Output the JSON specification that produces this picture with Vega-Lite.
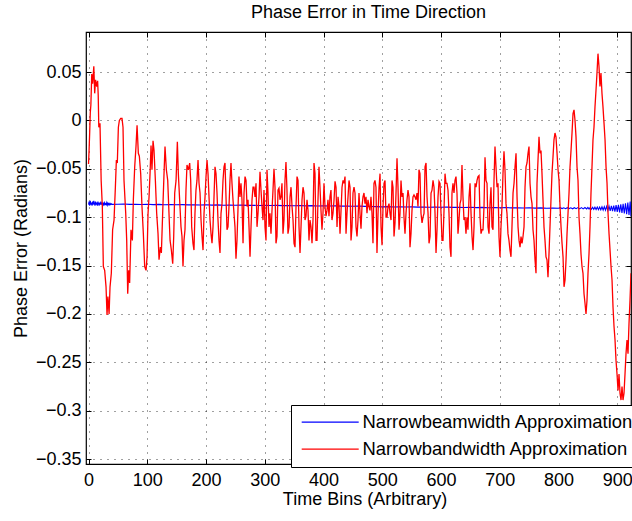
{
"$schema": "https://vega.github.io/schema/vega-lite/v6.json",
"width": 545, "height": 432,
"autosize": {"type": "none"},
"padding": {"left": 86, "top": 32, "right": 1, "bottom": 57},
"background": "white",
"title": {"text": "Phase Error in Time Direction", "font": "Liberation Sans", "fontSize": 18, "fontWeight": "normal", "color": "#000000", "offset": 10, "dx": 10},
"config": {
 "view": {"stroke": "#000000", "strokeWidth": 1.2},
 "font": "Liberation Sans",
 "axis": {"labelFont": "Liberation Sans", "labelFontSize": 18, "labelColor": "#000000", "titleFont": "Liberation Sans", "titleFontSize": 18, "titleFontWeight": "normal", "titleColor": "#000000", "domain": false, "tickColor": "#000000", "tickSize": -5, "tickWidth": 1, "grid": true, "gridColor": "#000000", "gridOpacity": 0.75, "gridDash": [1, 6], "gridWidth": 1}
},
"datasets": {
"blue": [
{"t":0,"v":-0.087},{"t":1,"v":-0.084},{"t":2,"v":-0.088},{"t":3,"v":-0.083},{"t":4,"v":-0.087},{"t":5,"v":-0.085},{"t":6,"v":-0.088},{"t":7,"v":-0.084},{"t":8,"v":-0.087},{"t":9,"v":-0.083},{"t":10,"v":-0.086},{"t":11,"v":-0.088},{"t":12,"v":-0.084},{"t":13,"v":-0.087},{"t":14,"v":-0.085},{"t":15,"v":-0.088},{"t":16,"v":-0.084},{"t":17,"v":-0.086},{"t":18,"v":-0.088},{"t":19,"v":-0.085},{"t":20,"v":-0.087},{"t":21,"v":-0.084},{"t":22,"v":-0.087},{"t":23,"v":-0.085},{"t":24,"v":-0.088},{"t":25,"v":-0.085},{"t":26,"v":-0.087},{"t":27,"v":-0.085},{"t":28,"v":-0.087},{"t":29,"v":-0.086},{"t":30,"v":-0.087},{"t":31,"v":-0.085},{"t":32,"v":-0.0875},{"t":33,"v":-0.0855},{"t":34,"v":-0.087},{"t":35,"v":-0.0858},{"t":36,"v":-0.0872},{"t":37,"v":-0.086},{"t":38,"v":-0.087},{"t":39,"v":-0.0862},{"t":40,"v":-0.0868},
{"t":50,"v":-0.0866},{"t":60,"v":-0.0864},{"t":70,"v":-0.0868},{"t":80,"v":-0.0866},{"t":90,"v":-0.0869},{"t":100,"v":-0.0867},{"t":110,"v":-0.087},{"t":120,"v":-0.0868},{"t":130,"v":-0.0871},{"t":140,"v":-0.0869},{"t":150,"v":-0.0872},{"t":160,"v":-0.087},{"t":170,"v":-0.0873},{"t":180,"v":-0.0871},{"t":190,"v":-0.0874},{"t":200,"v":-0.0872},{"t":210,"v":-0.0875},{"t":220,"v":-0.0873},{"t":230,"v":-0.0876},{"t":240,"v":-0.0874},{"t":250,"v":-0.0877},{"t":260,"v":-0.0875},{"t":270,"v":-0.0878},{"t":280,"v":-0.0876},{"t":290,"v":-0.0879},{"t":300,"v":-0.0877},{"t":310,"v":-0.088},{"t":320,"v":-0.0878},{"t":330,"v":-0.0881},{"t":340,"v":-0.0879},{"t":350,"v":-0.0882},{"t":360,"v":-0.088},{"t":370,"v":-0.0883},{"t":380,"v":-0.0881},{"t":390,"v":-0.0884},{"t":400,"v":-0.0882},{"t":410,"v":-0.0885},{"t":420,"v":-0.0883},{"t":430,"v":-0.0886},{"t":440,"v":-0.0884},{"t":450,"v":-0.0887},{"t":460,"v":-0.0885},{"t":470,"v":-0.0888},{"t":480,"v":-0.089},{"t":490,"v":-0.0891},{"t":500,"v":-0.0893},{"t":510,"v":-0.0891},{"t":520,"v":-0.0894},{"t":530,"v":-0.0892},{"t":540,"v":-0.0895},{"t":550,"v":-0.0893},{"t":560,"v":-0.0896},{"t":570,"v":-0.0894},{"t":580,"v":-0.0897},{"t":590,"v":-0.0895},{"t":600,"v":-0.0898},{"t":610,"v":-0.0896},{"t":620,"v":-0.0899},{"t":630,"v":-0.0897},{"t":640,"v":-0.09},{"t":650,"v":-0.0898},{"t":660,"v":-0.0901},{"t":670,"v":-0.0899},{"t":680,"v":-0.0902},{"t":690,"v":-0.09},{"t":700,"v":-0.0903},{"t":710,"v":-0.0901},{"t":720,"v":-0.0904},{"t":730,"v":-0.0902},{"t":740,"v":-0.0905},{"t":750,"v":-0.0903},{"t":760,"v":-0.0906},{"t":770,"v":-0.0904},{"t":780,"v":-0.0907},{"t":790,"v":-0.0905},{"t":800,"v":-0.0908},
{"t":803,"v":-0.0902},{"t":806,"v":-0.0911},{"t":809,"v":-0.0903},{"t":812,"v":-0.0912},{"t":815,"v":-0.0902},{"t":818,"v":-0.0911},{"t":821,"v":-0.0903},{"t":824,"v":-0.0913},{"t":827,"v":-0.0902},{"t":830,"v":-0.0912},{"t":833,"v":-0.0901},{"t":836,"v":-0.0914},{"t":839,"v":-0.0901},{"t":842,"v":-0.0914},{"t":845,"v":-0.09},{"t":848,"v":-0.0915},{"t":850,"v":-0.09},
{"t":852,"v":-0.0917},{"t":854,"v":-0.0899},{"t":856,"v":-0.0918},{"t":858,"v":-0.0898},{"t":860,"v":-0.0919},{"t":862,"v":-0.0897},{"t":864,"v":-0.092},{"t":866,"v":-0.0896},{"t":868,"v":-0.0922},{"t":870,"v":-0.0895},{"t":872,"v":-0.0923},{"t":874,"v":-0.0893},{"t":876,"v":-0.0926},{"t":878,"v":-0.0891},{"t":880,"v":-0.0928},{"t":882,"v":-0.0889},{"t":884,"v":-0.0931},{"t":886,"v":-0.0886},{"t":888,"v":-0.0934},{"t":890,"v":-0.0883},{"t":892,"v":-0.0938},{"t":894,"v":-0.088},{"t":896,"v":-0.0942},{"t":898,"v":-0.0876},{"t":900,"v":-0.0946},{"t":902,"v":-0.0872},{"t":904,"v":-0.0951},{"t":906,"v":-0.0867},{"t":908,"v":-0.0956},{"t":910,"v":-0.0862},{"t":912,"v":-0.0962},{"t":914,"v":-0.0856},{"t":916,"v":-0.0968},{"t":918,"v":-0.085},{"t":920,"v":-0.0976},{"t":922,"v":-0.0838},{"t":923.4,"v":-0.099}
],
"red": [
{"t":0,"v":-0.045},{"t":1,"v":-0.03},{"t":2,"v":-0.012},{"t":3,"v":0.008},{"t":4,"v":0.016},{"t":5.5,"v":0.048},{"t":7,"v":0.038},{"t":9,"v":0.056},{"t":10.5,"v":0.028},{"t":12,"v":0.042},{"t":14,"v":0.035},{"t":15.5,"v":0.041},{"t":16.5,"v":0.026},{"t":17.5,"v":-0.007},{"t":19.5,"v":-0.003},{"t":21.5,"v":-0.062},{"t":23.5,"v":-0.089},{"t":25.2,"v":-0.151},{"t":27.5,"v":-0.155},{"t":29.8,"v":-0.172},{"t":31.5,"v":-0.201},{"t":33,"v":-0.182},{"t":35,"v":-0.2},{"t":36.6,"v":-0.172},{"t":38.8,"v":-0.158},{"t":41,"v":-0.113},{"t":43.4,"v":-0.103},{"t":45.7,"v":-0.069},{"t":47.4,"v":-0.041},{"t":49,"v":-0.044},{"t":50.8,"v":-0.007},{"t":52.5,"v":0.0},{"t":54.8,"v":0.002},{"t":57,"v":0.002},{"t":58.7,"v":-0.007},{"t":60.4,"v":-0.062},{"t":63.3,"v":-0.096},{"t":65,"v":-0.124},{"t":66.7,"v":-0.179},{"t":68.4,"v":-0.155},{"t":70,"v":-0.168},{"t":72.3,"v":-0.113},{"t":74.6,"v":-0.124},{"t":76.3,"v":-0.082},{"t":78.6,"v":-0.048},{"t":80.8,"v":-0.027},{"t":82.6,"v":-0.005},{"t":84.8,"v":-0.034},{"t":86.5,"v":-0.037},{"t":88.8,"v":-0.055},{"t":91,"v":-0.089},{"t":93.3,"v":-0.117},{"t":95.6,"v":-0.151},{"t":97.9,"v":-0.155},{"t":99.6,"v":-0.141},{"t":101.3,"v":-0.096},{"t":103,"v":-0.079},{"t":104.7,"v":-0.055},{"t":106.4,"v":-0.026},{"t":108,"v":-0.051},{"t":109.8,"v":-0.021},{"t":111.5,"v":-0.031},{"t":113.8,"v":-0.062},{"t":116,"v":-0.096},{"t":118.3,"v":-0.117},{"t":120,"v":-0.144},{"t":122.3,"v":-0.131},{"t":124,"v":-0.137},{"t":126.2,"v":-0.096},{"t":128.5,"v":-0.055},{"t":130.2,"v":-0.027},{"t":132.5,"v":-0.051},{"t":134.8,"v":-0.062},{"t":136.5,"v":-0.089},{"t":138.8,"v":-0.124},{"t":141,"v":-0.134},{"t":143.3,"v":-0.148},{"t":145,"v":-0.12},{"t":146.7,"v":-0.075},{"t":149,"v":-0.062},
{"t":151.2,"v":-0.022},{"t":152.9,"v":-0.055},{"t":155.1,"v":-0.082},{"t":157.4,"v":-0.11},{"t":159.1,"v":-0.12},{"t":160.8,"v":-0.151},{"t":162.5,"v":-0.124},{"t":164.2,"v":-0.113},{"t":165.9,"v":-0.072},{"t":167.6,"v":-0.046},{"t":169.9,"v":-0.051},{"t":172.2,"v":-0.044},{"t":173.9,"v":-0.062},{"t":175.6,"v":-0.11},{"t":177.8,"v":-0.127},{"t":179.5,"v":-0.134},{"t":181.2,"v":-0.096},{"t":182.9,"v":-0.072},{"t":184.6,"v":-0.062},{"t":186.4,"v":-0.041},{"t":188.1,"v":-0.065},{"t":189.8,"v":-0.075},{"t":191.5,"v":-0.103},{"t":193.2,"v":-0.12},{"t":194.9,"v":-0.134},{"t":196.6,"v":-0.096},{"t":198.3,"v":-0.079},{"t":200,"v":-0.058},{"t":201.7,"v":-0.041},{"t":203.4,"v":-0.055},{"t":205.1,"v":-0.079},{"t":206.8,"v":-0.103},{"t":208.5,"v":-0.117},{"t":210.2,"v":-0.127},{"t":211.9,"v":-0.11},{"t":213.6,"v":-0.079},{"t":215.3,"v":-0.048},{"t":217,"v":-0.055},{"t":218.7,"v":-0.075},{"t":220.4,"v":-0.103},{"t":222.1,"v":-0.124},{"t":223.8,"v":-0.137},{"t":225.5,"v":-0.096},{"t":227.2,"v":-0.086},{"t":228.9,"v":-0.062},{"t":230.6,"v":-0.048},{"t":232.3,"v":-0.044},{"t":234,"v":-0.079},{"t":235.7,"v":-0.113},{"t":237.4,"v":-0.11},{"t":239.1,"v":-0.089},{"t":240.8,"v":-0.062},{"t":242.5,"v":-0.044},{"t":244.2,"v":-0.065},{"t":245.9,"v":-0.082},{"t":247.6,"v":-0.096},{"t":249.3,"v":-0.11},{"t":251,"v":-0.143},{"t":252.7,"v":-0.124},{"t":254.4,"v":-0.092},{"t":256.1,"v":-0.058},{"t":257.8,"v":-0.079},{"t":259.5,"v":-0.065},{"t":261.2,"v":-0.082},{"t":263,"v":-0.127},{"t":264.7,"v":-0.075},{"t":266.4,"v":-0.058},{"t":268.1,"v":-0.062},{"t":269.8,"v":-0.089},{"t":271.5,"v":-0.082},{"t":273.2,"v":-0.11},{"t":274.9,"v":-0.141},{"t":276.6,"v":-0.11},{"t":278.3,"v":-0.082},{"t":280,"v":-0.069},{"t":281.7,"v":-0.069},{"t":283.4,"v":-0.079},{"t":285.1,"v":-0.065},{"t":286.8,"v":-0.11},{"t":288.5,"v":-0.096},{"t":290.2,"v":-0.079},{"t":291.9,"v":-0.053},{"t":293.6,"v":-0.072},{"t":295.3,"v":-0.089},{"t":297,"v":-0.103},{"t":298.7,"v":-0.072},{"t":300.4,"v":-0.11},{"t":302.1,"v":-0.124},
{"t":303.8,"v":-0.051},{"t":305.5,"v":-0.075},{"t":307.2,"v":-0.11},{"t":308.9,"v":-0.096},{"t":310.6,"v":-0.117},{"t":312.3,"v":-0.093},{"t":314,"v":-0.072},{"t":315.7,"v":-0.05},{"t":317.4,"v":-0.069},{"t":319.1,"v":-0.127},{"t":320.8,"v":-0.12},{"t":322.5,"v":-0.072},{"t":324.2,"v":-0.07},{"t":325.9,"v":-0.082},{"t":327.6,"v":-0.079},{"t":329.3,"v":-0.065},{"t":331,"v":-0.117},{"t":332.7,"v":-0.103},{"t":334.4,"v":-0.062},{"t":336.1,"v":-0.043},{"t":337.8,"v":-0.072},{"t":339.5,"v":-0.117},{"t":341.3,"v":-0.11},{"t":343,"v":-0.079},{"t":344.7,"v":-0.069},{"t":346.4,"v":-0.089},{"t":348.1,"v":-0.103},{"t":349.8,"v":-0.127},{"t":351.5,"v":-0.131},{"t":353.2,"v":-0.089},{"t":354.9,"v":-0.058},{"t":356.6,"v":-0.062},{"t":358.3,"v":-0.11},{"t":360,"v":-0.137},{"t":361.7,"v":-0.11},{"t":363.4,"v":-0.082},{"t":365.1,"v":-0.069},{"t":366.8,"v":-0.075},{"t":368.5,"v":-0.103},{"t":370.2,"v":-0.099},{"t":371.9,"v":-0.082},{"t":373.6,"v":-0.093},{"t":375.3,"v":-0.124},{"t":377,"v":-0.103},{"t":378.7,"v":-0.11},{"t":380.4,"v":-0.127},{"t":382.1,"v":-0.103},{"t":383.8,"v":-0.044},{"t":385.5,"v":-0.055},{"t":387.2,"v":-0.124},{"t":388.9,"v":-0.124},{"t":390.6,"v":-0.082},{"t":392.3,"v":-0.048},{"t":394,"v":-0.069},{"t":395.7,"v":-0.093},{"t":397.4,"v":-0.113},{"t":399.1,"v":-0.096},{"t":400.8,"v":-0.065},{"t":402.5,"v":-0.089},{"t":404.2,"v":-0.099},{"t":405.9,"v":-0.093},{"t":407.6,"v":-0.082},{"t":409.3,"v":-0.099},{"t":411,"v":-0.079},{"t":412.7,"v":-0.072},{"t":414.4,"v":-0.103},{"t":416.1,"v":-0.096},{"t":417.9,"v":-0.082},{"t":419.6,"v":-0.063},{"t":421.3,"v":-0.069},{"t":423,"v":-0.11},{"t":424.7,"v":-0.079},{"t":426.4,"v":-0.089},{"t":428.1,"v":-0.117},{"t":429.8,"v":-0.093},{"t":431.5,"v":-0.069},{"t":433.2,"v":-0.062},{"t":434.9,"v":-0.065},{"t":436.6,"v":-0.058},{"t":438.3,"v":-0.117},{"t":440,"v":-0.096},{"t":441.7,"v":-0.079},{"t":443.4,"v":-0.062},{"t":445.1,"v":-0.069},{"t":446.8,"v":-0.124},{"t":448.5,"v":-0.11},{"t":450.2,"v":-0.075},{"t":451.9,"v":-0.069},{"t":453.6,"v":-0.075},{"t":455.3,"v":-0.11},
{"t":457,"v":-0.12},{"t":458.7,"v":-0.103},{"t":460.4,"v":-0.075},{"t":462.1,"v":-0.096},{"t":463.8,"v":-0.112},{"t":465.5,"v":-0.089},{"t":467.2,"v":-0.079},{"t":468.9,"v":-0.075},{"t":470.6,"v":-0.086},{"t":472.3,"v":-0.079},{"t":474,"v":-0.096},{"t":475.7,"v":-0.082},{"t":477.4,"v":-0.089},{"t":479.1,"v":-0.093},{"t":480.8,"v":-0.079},{"t":482.5,"v":-0.096},{"t":484.2,"v":-0.127},{"t":485.9,"v":-0.065},{"t":487.6,"v":-0.062},{"t":489.3,"v":-0.069},{"t":491,"v":-0.137},{"t":492.8,"v":-0.096},{"t":494.5,"v":-0.069},{"t":496.2,"v":-0.055},{"t":497.9,"v":-0.11},{"t":499.6,"v":-0.129},{"t":501.3,"v":-0.089},{"t":503,"v":-0.065},{"t":504.7,"v":-0.062},{"t":506.4,"v":-0.1},{"t":508.1,"v":-0.1},{"t":509.8,"v":-0.089},{"t":511.5,"v":-0.086},{"t":513.2,"v":-0.096},{"t":514.9,"v":-0.103},{"t":516.6,"v":-0.062},{"t":518.3,"v":-0.069},{"t":520,"v":-0.12},{"t":521.7,"v":-0.106},{"t":523.4,"v":-0.075},{"t":525.1,"v":-0.039},{"t":526.8,"v":-0.069},{"t":528.5,"v":-0.113},{"t":530.2,"v":-0.096},{"t":531.9,"v":-0.062},{"t":533.6,"v":-0.079},{"t":535.3,"v":-0.075},{"t":537,"v":-0.1},{"t":538.7,"v":-0.117},{"t":540.4,"v":-0.096},{"t":542.1,"v":-0.082},{"t":543.8,"v":-0.072},{"t":545.5,"v":-0.079},{"t":547.2,"v":-0.131},{"t":548.9,"v":-0.117},{"t":550.6,"v":-0.093},{"t":552.3,"v":-0.079},{"t":554,"v":-0.077},{"t":555.7,"v":-0.079},{"t":557.4,"v":-0.082},{"t":559.1,"v":-0.075},{"t":560.8,"v":-0.089},{"t":562.5,"v":-0.051},{"t":564.2,"v":-0.055},{"t":565.9,"v":-0.096},{"t":567.7,"v":-0.106},{"t":569.4,"v":-0.1},{"t":571.1,"v":-0.096},{"t":572.8,"v":-0.048},{"t":574.5,"v":-0.044},{"t":576.2,"v":-0.079},{"t":577.9,"v":-0.096},{"t":579.6,"v":-0.127},{"t":581.3,"v":-0.12},{"t":583,"v":-0.075},{"t":584.7,"v":-0.072},{"t":586.4,"v":-0.062},{"t":588.1,"v":-0.069},{"t":589.8,"v":-0.096},{"t":591.5,"v":-0.137},{"t":593.2,"v":-0.113},{"t":594.9,"v":-0.079},{"t":596.6,"v":-0.063},{"t":598.3,"v":-0.065},{"t":600,"v":-0.096},{"t":601.7,"v":-0.124},{"t":603.4,"v":-0.124},{"t":605.1,"v":-0.093},{"t":606.8,"v":-0.055},{"t":608.5,"v":-0.065},
{"t":610.2,"v":-0.065},{"t":611.9,"v":-0.072},{"t":613.6,"v":-0.096},{"t":615.3,"v":-0.131},{"t":617,"v":-0.141},{"t":618.7,"v":-0.075},{"t":620.4,"v":-0.065},{"t":622.1,"v":-0.075},{"t":623.8,"v":-0.062},{"t":625.5,"v":-0.058},{"t":627.2,"v":-0.075},{"t":628.9,"v":-0.117},{"t":630.6,"v":-0.103},{"t":632.3,"v":-0.086},{"t":634,"v":-0.082},{"t":635.7,"v":-0.046},{"t":637.4,"v":-0.079},{"t":639.1,"v":-0.103},{"t":640.8,"v":-0.1},{"t":642.5,"v":-0.117},{"t":644.2,"v":-0.1},{"t":645.9,"v":-0.113},{"t":647.7,"v":-0.079},{"t":649.4,"v":-0.065},{"t":651.1,"v":-0.096},{"t":652.8,"v":-0.12},{"t":654.5,"v":-0.134},{"t":656.2,"v":-0.11},{"t":657.9,"v":-0.065},{"t":659.6,"v":-0.069},{"t":661.3,"v":-0.062},{"t":663,"v":-0.058},{"t":664.7,"v":-0.057},{"t":666.4,"v":-0.1},{"t":668.1,"v":-0.117},{"t":669.8,"v":-0.113},{"t":671.5,"v":-0.113},{"t":673.2,"v":-0.089},{"t":674.9,"v":-0.038},{"t":676.6,"v":-0.062},{"t":678.3,"v":-0.065},{"t":680,"v":-0.11},{"t":681.7,"v":-0.117},{"t":683.4,"v":-0.086},{"t":685.1,"v":-0.069},{"t":686.8,"v":-0.11},{"t":688.5,"v":-0.113},{"t":690.2,"v":-0.062},{"t":691.9,"v":-0.027},{"t":693.6,"v":-0.048},{"t":695.3,"v":-0.069},{"t":697,"v":-0.065},{"t":698.7,"v":-0.12},{"t":700.4,"v":-0.141},{"t":702.1,"v":-0.11},{"t":703.8,"v":-0.089},{"t":705.5,"v":-0.055},{"t":707.2,"v":-0.032},{"t":708.9,"v":-0.051},{"t":710.6,"v":-0.086},{"t":712.3,"v":-0.096},{"t":714,"v":-0.117},{"t":715.7,"v":-0.124},{"t":717.4,"v":-0.134},{"t":719.1,"v":-0.141},{"t":720.8,"v":-0.11},{"t":722.6,"v":-0.075},{"t":724.3,"v":-0.065},{"t":726,"v":-0.048},{"t":727.7,"v":-0.034},{"t":729.4,"v":-0.079},{"t":731.1,"v":-0.11},{"t":732.8,"v":-0.124},{"t":734.5,"v":-0.131},{"t":736.2,"v":-0.12},{"t":737.9,"v":-0.127},{"t":739.6,"v":-0.12},{"t":741.3,"v":-0.11},{"t":743,"v":-0.069},{"t":744.7,"v":-0.048},{"t":746.4,"v":-0.044},{"t":748.1,"v":-0.034},{"t":749.8,"v":-0.027},{"t":751.5,"v":-0.065},{"t":753.2,"v":-0.079},{"t":754.9,"v":-0.086},{"t":756.6,"v":-0.113},{"t":758.3,"v":-0.124},{"t":760,"v":-0.144},{"t":761.7,"v":-0.158},{"t":762.6,"v":-0.11},
{"t":763.4,"v":-0.065},{"t":765.1,"v":-0.041},{"t":766.8,"v":-0.017},{"t":768.5,"v":-0.034},{"t":770.2,"v":-0.031},{"t":771.9,"v":-0.055},{"t":773.6,"v":-0.082},{"t":775.3,"v":-0.11},{"t":777,"v":-0.124},{"t":778.7,"v":-0.141},{"t":780.4,"v":-0.144},{"t":782.1,"v":-0.162},{"t":783.8,"v":-0.138},{"t":785.5,"v":-0.11},{"t":787.2,"v":-0.082},{"t":788.9,"v":-0.055},{"t":790.6,"v":-0.038},{"t":792.3,"v":-0.02},{"t":794,"v":-0.013},{"t":795.7,"v":-0.017},{"t":797.5,"v":-0.034},{"t":799.2,"v":-0.051},{"t":800.9,"v":-0.062},{"t":802.6,"v":-0.089},{"t":804.3,"v":-0.11},{"t":806,"v":-0.127},{"t":807.7,"v":-0.141},{"t":809.4,"v":-0.172},{"t":811.1,"v":-0.165},{"t":812.8,"v":-0.144},{"t":814.5,"v":-0.117},{"t":816.2,"v":-0.096},{"t":817.9,"v":-0.075},{"t":819.6,"v":-0.048},{"t":821.3,"v":-0.031},{"t":823,"v":-0.013},{"t":824.7,"v":0.007},{"t":826.4,"v":0.011},{"t":828.1,"v":0.0},{"t":829.8,"v":-0.017},{"t":831.5,"v":-0.048},{"t":833.2,"v":-0.062},{"t":834.9,"v":-0.1},{"t":836.6,"v":-0.117},{"t":838.3,"v":-0.138},{"t":840,"v":-0.151},{"t":841.7,"v":-0.158},{"t":843.4,"v":-0.179},{"t":845.1,"v":-0.189},{"t":846.8,"v":-0.2},{"t":848.5,"v":-0.186},{"t":850.2,"v":-0.158},{"t":851.9,"v":-0.138},{"t":853.6,"v":-0.11},{"t":855.3,"v":-0.075},{"t":857,"v":-0.048},{"t":858.7,"v":-0.02},{"t":860.4,"v":-0.007},{"t":862.1,"v":0.014},{"t":863.8,"v":0.031},{"t":865.5,"v":0.049},{"t":867.2,"v":0.069},{"t":868.9,"v":0.056},{"t":870.6,"v":0.035},{"t":872.3,"v":0.049},{"t":874,"v":0.028},{"t":875.7,"v":0.014},{"t":877.5,"v":-0.003},{"t":879.2,"v":-0.02},{"t":880.9,"v":-0.048},{"t":882.6,"v":-0.065},{"t":884.3,"v":-0.096},{"t":886,"v":-0.117},{"t":887.7,"v":-0.134},{"t":889.4,"v":-0.151},{"t":891.1,"v":-0.165},{"t":892.8,"v":-0.193},{"t":894.5,"v":-0.213},{"t":896.2,"v":-0.227},{"t":897.9,"v":-0.248},{"t":899.6,"v":-0.262},{"t":901.3,"v":-0.279},{"t":903,"v":-0.262},{"t":904.7,"v":-0.282},{"t":906.4,"v":-0.289},{"t":908.1,"v":-0.275},{"t":909.8,"v":-0.289},{"t":911.5,"v":-0.282},{"t":913.2,"v":-0.262},{"t":914.9,"v":-0.241},{"t":916.6,"v":-0.227},{"t":918.3,"v":-0.241},{"t":920,"v":-0.21},{"t":921.7,"v":-0.186},{"t":923.4,"v":-0.158}
]
},
"layer": [
 {"layer": [
  {"data": {"name": "blue"},
   "mark": {"type": "line", "strokeWidth": 1.1, "clip": true},
   "encoding": {
    "x": {"field": "t", "type": "quantitative", "scale": {"domain": [-4.3, 923.4], "nice": false, "zero": false},
          "axis": {"title": "Time Bins (Arbitrary)", "values": [0,100,200,300,400,500,600,700,800,900], "format": "d", "labelPadding": 12, "titleX": 278.5, "titleY": 40, "titleAlign": "center", "titleBaseline": "alphabetic"}},
    "y": {"field": "v", "type": "quantitative", "scale": {"domain": [-0.3551, 0.0914], "nice": false, "zero": false},
          "axis": {"title": "Phase Error (Radians)", "values": [-0.35,-0.3,-0.25,-0.2,-0.15,-0.1,-0.05,0,0.05], "format": "~g", "labelPadding": 10, "titleAngle": -90, "titleX": -59.5, "titleY": 216, "titleAlign": "center", "titleBaseline": "alphabetic"}},
    "color": {"datum": "Narrowbeamwidth Approximation", "type": "nominal",
              "scale": {"domain": ["Narrowbeamwidth Approximation", "Narrowbandwidth Approximation"], "range": ["#0000ff", "#ff0000"]},
              "legend": {"orient": "none", "legendX": 205, "legendY": 373, "title": null, "fillColor": "#ffffff", "strokeColor": "#000000", "padding": 8, "symbolType": "M-5,0L5,0", "symbolSize": 130, "symbolStrokeWidth": 1.2, "symbolOffset": 22, "labelOffset": 23, "labelFontSize": 18.4, "labelFont": "Liberation Sans", "labelColor": "#000000", "rowPadding": 8, "labelLimit": 500}}
   }},
  {"data": {"name": "red"},
   "mark": {"type": "line", "strokeWidth": 1.3, "clip": true},
   "encoding": {
    "x": {"field": "t", "type": "quantitative", "title": "Time Bins (Arbitrary)"},
    "y": {"field": "v", "type": "quantitative", "title": "Phase Error (Radians)"},
    "color": {"datum": "Narrowbandwidth Approximation", "type": "nominal"}
   }}
 ]},
 {"data": {"values": [{"k": 1}]},
  "mark": {"type": "point", "opacity": 0},
  "encoding": {
   "x": {"datum": 0, "type": "quantitative", "scale": {"domain": [-4.3, 923.4], "nice": false, "zero": false},
         "axis": {"orient": "top", "values": [0,100,200,300,400,500,600,700,800,900], "labels": false, "grid": false, "title": null}},
   "y": {"datum": 0, "type": "quantitative", "scale": {"domain": [-0.3551, 0.0914], "nice": false, "zero": false},
         "axis": {"orient": "right", "values": [-0.35,-0.3,-0.25,-0.2,-0.15,-0.1,-0.05,0,0.05], "labels": false, "grid": false, "title": null}}
  }}
],
"resolve": {"axis": {"x": "independent", "y": "independent"}}
}
